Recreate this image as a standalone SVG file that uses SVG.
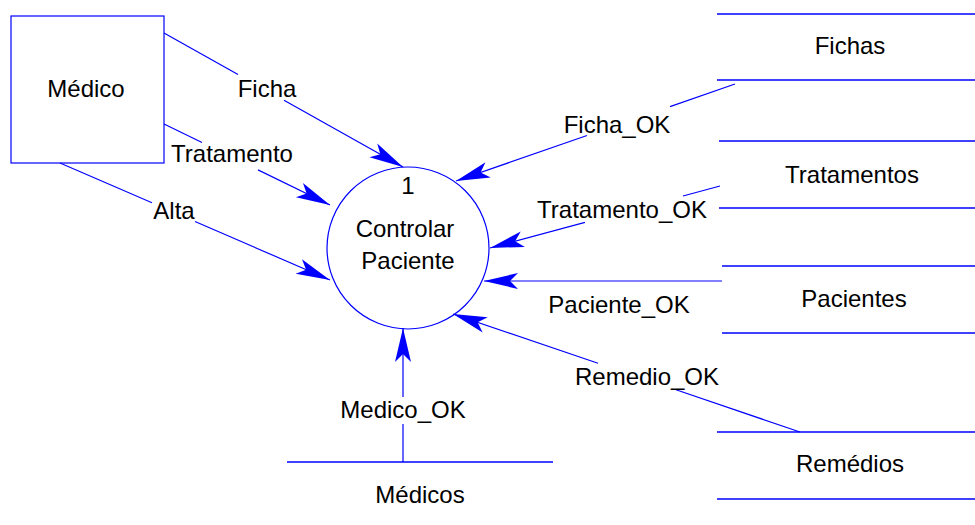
<svg xmlns="http://www.w3.org/2000/svg" width="975" height="525" viewBox="0 0 975 525">
  <style>
    .shape { fill: #ffffff; stroke: #0000ff; stroke-width: 1.2; }
    .store line { stroke: #0000ff; stroke-width: 1.3; }
    .flow { fill: none; stroke: #0000ff; stroke-width: 1.2; marker-end: url(#arrow); }
    .plain { fill: none; stroke: #0000ff; stroke-width: 1.2; }
    text { font-family: "Liberation Sans", Arial, sans-serif; font-size: 24px; fill: #000000; text-anchor: middle; }
  </style>
  <defs>
    <marker id="arrow" markerUnits="userSpaceOnUse" orient="auto" markerWidth="36" markerHeight="18" viewBox="-35 -9 36 18" refX="0" refY="0">
      <path d="M0,0 L-34,-8 L-26,0 L-34,8 Z" fill="#0000ff"/>
    </marker>
  </defs>

  <rect width="975" height="525" fill="#ffffff"/>

  <!-- external entity -->
  <g id="medico">
    <rect class="shape" x="11" y="16" width="153" height="147"/>
    <text x="86" y="97">Médico</text>
  </g>

  <!-- process -->
  <g id="controlar-paciente">
    <circle class="shape" cx="408" cy="248" r="81"/>
    <text x="408" y="194">1</text>
    <text x="405" y="237">Controlar</text>
    <text x="408" y="269">Paciente</text>
  </g>

  <!-- data stores -->
  <g id="fichas" class="store">
    <line x1="717" y1="14" x2="975" y2="14"/>
    <line x1="717" y1="80" x2="975" y2="80"/>
    <text x="850" y="54">Fichas</text>
  </g>
  <g id="tratamentos" class="store">
    <line x1="719" y1="141" x2="975" y2="141"/>
    <line x1="719" y1="208" x2="975" y2="208"/>
    <text x="852" y="183">Tratamentos</text>
  </g>
  <g id="pacientes" class="store">
    <line x1="722" y1="266" x2="975" y2="266"/>
    <line x1="722" y1="333" x2="975" y2="333"/>
    <text x="854" y="307">Pacientes</text>
  </g>
  <g id="remedios" class="store">
    <line x1="717" y1="432" x2="975" y2="432"/>
    <line x1="717" y1="499" x2="975" y2="499"/>
    <text x="850" y="472">Remédios</text>
  </g>
  <g id="medicos" class="store">
    <line x1="287" y1="462" x2="553" y2="462"/>
    <text x="420" y="503">Médicos</text>
  </g>

  <!-- data flows -->
  <g id="connectors">
    <path class="plain" d="M164,33 L238,74.5"/>
    <path class="flow" d="M284,100.3 L403,167"/>
    <text x="267" y="97">Ficha</text>

    <path class="plain" d="M164,124 L202,142.5"/>
    <path class="flow" d="M258,169.9 L330,205"/>
    <text x="232" y="162">Tratamento</text>

    <path class="plain" d="M60,163 L152,202.8"/>
    <path class="flow" d="M195,221.5 L330,280"/>
    <text x="174" y="219">Alta</text>

    <path class="plain" d="M735,84 L670,106.6"/>
    <path class="flow" d="M587,135.5 L456,181"/>
    <text x="617" y="133">Ficha_OK</text>

    <path class="plain" d="M720,186 L683,196"/>
    <path class="flow" d="M585,222.4 L490,248"/>
    <text x="622" y="218">Tratamento_OK</text>

    <path class="flow" d="M722,281 L484,281"/>
    <text x="619" y="313">Paciente_OK</text>

    <path class="plain" d="M800,432 L676,389.8"/>
    <path class="flow" d="M598,363.3 L453,314"/>
    <text x="647" y="385">Remedio_OK</text>

    <path class="plain" d="M403,462 L403,424"/>
    <path class="flow" d="M403,397 L403,328"/>
    <text x="403" y="418">Medico_OK</text>
  </g>
</svg>
